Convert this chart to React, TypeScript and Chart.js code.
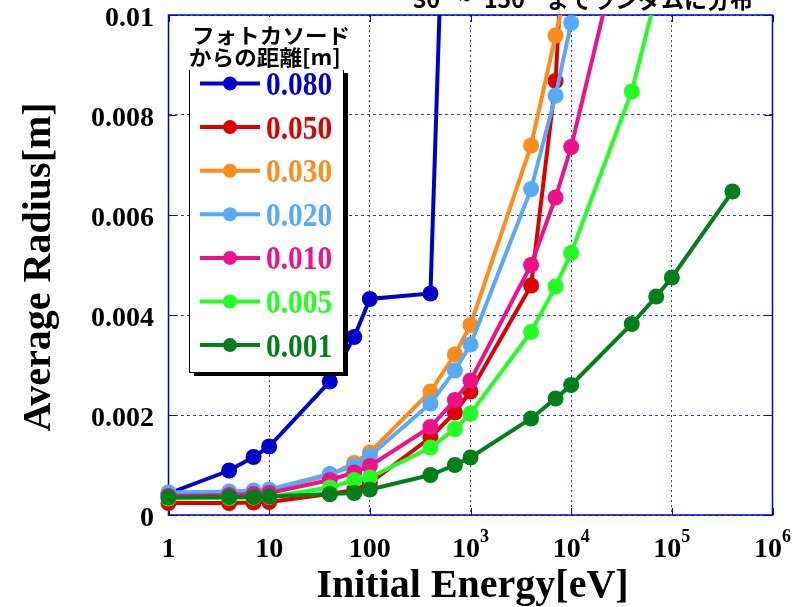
import React, { useEffect, useRef } from 'react';
import { Chart, registerables } from 'chart.js';

Chart.register(...registerables);

// ---- data ----
const energies = [1, 4, 7, 10, 40, 70, 100, 400, 700, 1000, 4000, 7000, 10000, 40000, 70000, 100000, 400000];

const seriesLabels = ['0.080', '0.050', '0.030', '0.020', '0.010', '0.005', '0.001'];
const seriesColors = ['#0000cc', '#dd0000', '#ff8c1a', '#55aaff', '#ee1188', '#22ff22', '#007f1a'];

const r080 = [0.00043, 0.00089, 0.00116, 0.00137, 0.00267, 0.00356, 0.00432, 0.00443, 0.0196];
const r050 = [0.00024, 0.00024, 0.00025, 0.00026, 0.00042, 0.0005, 0.00064, 0.00155, 0.00205, 0.00247, 0.00459, 0.00868, 0.0145];
const r030 = [0.00043, 0.00045, 0.00047, 0.00049, 0.0008, 0.00104, 0.00125, 0.00247, 0.00321, 0.0038, 0.00739, 0.00959, 0.011];
const r020 = [0.00045, 0.00047, 0.00049, 0.00051, 0.00082, 0.00098, 0.00118, 0.00223, 0.00289, 0.00341, 0.00652, 0.00839, 0.00984];
const r010 = [0.00038, 0.0004, 0.00042, 0.00044, 0.0007, 0.00085, 0.00098, 0.00176, 0.0023, 0.00269, 0.005, 0.00635, 0.00736, 0.0124];
const r005 = [0.00033, 0.00034, 0.00035, 0.00036, 0.00055, 0.0007, 0.00075, 0.00135, 0.00172, 0.00203, 0.00366, 0.00457, 0.00524, 0.00847, 0.0104];
const r001 = [0.00035, 0.00036, 0.00036, 0.00037, 0.00042, 0.00044, 0.00051, 0.0008, 0.001, 0.00115, 0.00193, 0.00233, 0.0026, 0.00382, 0.00437, 0.00475, 0.00647];

const seriesValues = [r080, r050, r030, r020, r010, r005, r001];

const xTickValues = [1, 10, 100, 1000, 10000, 100000, 1000000];
const xTickBase = ['1', '10', '100', '10', '10', '10', '10'];
const xTickExp = ['', '', '', '3', '4', '5', '6'];
const yTickValues = [0, 0.002, 0.004, 0.006, 0.008, 0.01];
const yTickLabels = ['0', '0.002', '0.004', '0.006', '0.008', '0.01'];

const xTitle = 'Initial Energy[eV]';
const yTitle = 'Average Radius[m]';
const legendTitle = ['フォトカソード', 'からの距離[m]'];
const topTitleParts = [
  { t: '30°', x: 413 },
  { t: '~', x: 458 },
  { t: '150°', x: 484 },
  { t: 'までランダムに分布', x: 546 },
];

const SERIF = '"Liberation Serif", "Times New Roman", serif';
const CJK = '"Noto Sans CJK JP", "Noto Sans", sans-serif';

const customPlugin = {
  id: 'customDraw',
  beforeDatasetsDraw(chart: any) {
    const { ctx, chartArea: a } = chart;
    const xs = chart.scales.x;
    const ys = chart.scales.y;
    ctx.save();
    ctx.strokeStyle = '#0000dd';
    ctx.lineWidth = 1;
    // inner tick marks
    xTickValues.forEach((v) => {
      const px = Math.round(xs.getPixelForValue(v)) + 0.5;
      ctx.beginPath();
      ctx.moveTo(px, a.bottom);
      ctx.lineTo(px, a.bottom - 7);
      ctx.moveTo(px, a.top);
      ctx.lineTo(px, a.top + 7);
      ctx.stroke();
    });
    yTickValues.forEach((v) => {
      const py = Math.round(ys.getPixelForValue(v)) + 0.5;
      ctx.beginPath();
      ctx.moveTo(a.left, py);
      ctx.lineTo(a.left + 8, py);
      ctx.moveTo(a.right, py);
      ctx.lineTo(a.right - 8, py);
      ctx.stroke();
    });
    ctx.lineWidth = 1.5;
    ctx.strokeRect(a.left, a.top, a.right - a.left, a.bottom - a.top);
    ctx.restore();
  },
  afterDatasetsDraw(chart: any) {
    const { ctx } = chart;
    ctx.save();
    // legend box
    const lx = 189, ly = 69, lw = 154, lh = 303;
    ctx.fillStyle = '#000';
    ctx.fillRect(lx + 5, ly + 4, lw, lh);
    ctx.fillStyle = '#fff';
    ctx.fillRect(lx, ly, lw, lh);
    ctx.strokeStyle = '#000';
    ctx.lineWidth = 1;
    ctx.strokeRect(lx + 0.5, ly + 0.5, lw, lh);
    // title background
    ctx.fillStyle = '#fff';
    ctx.fillRect(186, 17, 170, ly - 16);
    // title
    ctx.fillStyle = '#000';
    ctx.font = `bold 20px ${CJK}`;
    ctx.textBaseline = 'middle';
    ctx.textAlign = 'left';
    const tys = [35, 57];
    const txs = [192, 189];
    legendTitle.forEach((t, i) => {
      ctx.save();
      ctx.translate(txs[i], tys[i]);
      ctx.scale(1.13, 1.05);
      ctx.fillText(t, 0, 0);
      ctx.restore();
    });
    // entries
    seriesLabels.forEach((lab, i) => {
      const y = 83.5 + i * 43.6;
      const c = seriesColors[i];
      ctx.strokeStyle = c;
      ctx.lineWidth = 4;
      ctx.beginPath();
      ctx.moveTo(200, y);
      ctx.lineTo(260, y);
      ctx.stroke();
      ctx.fillStyle = c;
      ctx.beginPath();
      ctx.arc(230, y, 7, 0, Math.PI * 2);
      ctx.fill();
      ctx.save();
      ctx.font = `bold 32px ${SERIF}`;
      ctx.textBaseline = 'alphabetic';
      ctx.translate(266, y + 11.5);
      ctx.scale(0.92, 1.05);
      ctx.fillText(lab, 0, 0);
      ctx.restore();
    });
    ctx.restore();
  },
  afterDraw(chart: any) {
    const { ctx, chartArea: a } = chart;
    const xs = chart.scales.x;
    const ys = chart.scales.y;
    ctx.save();
    ctx.fillStyle = '#000';
    // y tick labels
    ctx.font = `bold 28px ${SERIF}`;
    ctx.textAlign = 'right';
    ctx.textBaseline = 'alphabetic';
    yTickValues.forEach((v, i) => {
      const py = ys.getPixelForValue(v);
      ctx.fillText(yTickLabels[i], 154, py + 11);
    });
    // x tick labels
    xTickValues.forEach((v, i) => {
      const px = xs.getPixelForValue(v);
      ctx.font = `bold 28px ${SERIF}`;
      const wb = ctx.measureText(xTickBase[i]).width;
      ctx.font = `bold 18px ${SERIF}`;
      const we = xTickExp[i] ? ctx.measureText(xTickExp[i]).width : 0;
      const start = px - (wb + we) / 2;
      ctx.textAlign = 'left';
      ctx.font = `bold 28px ${SERIF}`;
      ctx.fillText(xTickBase[i], start, 557);
      if (xTickExp[i]) {
        ctx.font = `bold 18px ${SERIF}`;
        ctx.fillText(xTickExp[i], start + wb, 542);
      }
    });
    // axis titles
    ctx.font = `bold 40px ${SERIF}`;
    ctx.textAlign = 'center';
    ctx.fillText(xTitle, (a.left + a.right) / 2 + 2, 597);
    ctx.save();
    ctx.translate(50, 267);
    ctx.rotate(-Math.PI / 2);
    ctx.fillText(yTitle, 0, 0);
    ctx.restore();
    // top (cropped) title
    ctx.font = `bold 23px ${CJK}`;
    ctx.textAlign = 'left';
    topTitleParts.forEach((p) => ctx.fillText(p.t, p.x, 7.5));
    ctx.restore();
  },
};

export default function App() {
  const ref = useRef<HTMLCanvasElement | null>(null);
  useEffect(() => {
    if (!ref.current) return;
    const datasets = seriesValues.map((vals, i) => ({
      label: seriesLabels[i],
      data: vals.map((v, j) => ({ x: energies[j], y: v })),
      borderColor: seriesColors[i],
      backgroundColor: seriesColors[i],
      pointBackgroundColor: seriesColors[i],
      pointBorderWidth: 0,
      pointRadius: 8,
      borderWidth: 4,
      tension: 0,
      order: seriesLabels.length - i,
      clip: { left: 12, right: 12, top: 0, bottom: 12 },
    }));
    const chart = new Chart(ref.current, {
      type: 'line',
      data: { datasets },
      options: {
        animation: false,
        responsive: false,
        devicePixelRatio: 1,
        layout: { padding: { left: 168.5, right: 33.5, top: 15, bottom: 92 } },
        plugins: { legend: { display: false }, tooltip: { enabled: false } },
        scales: {
          x: {
            type: 'logarithmic',
            min: 1,
            max: 1000000,
            afterBuildTicks: (s: any) => {
              s.ticks = xTickValues.map((v) => ({ value: v, major: true }));
            },
            ticks: { display: false },
            grid: { color: 'rgba(20,20,230,0.85)', lineWidth: 1, drawTicks: false },
            border: { display: false, dash: [2, 3] },
          },
          y: {
            type: 'linear',
            min: 0,
            max: 0.01,
            ticks: { display: false, stepSize: 0.002 },
            grid: { color: 'rgba(20,20,230,0.85)', lineWidth: 1, drawTicks: false },
            border: { display: false, dash: [3, 3] },
          },
        },
      } as any,
      plugins: [customPlugin],
    });
    return () => chart.destroy();
  }, []);
  return (
    <div style={{ position: 'absolute', left: 0, top: 0, width: 806, height: 607, background: '#fff' }}>
      <canvas ref={ref} width={806} height={607} style={{ width: 806, height: 607 }} />
    </div>
  );
}
